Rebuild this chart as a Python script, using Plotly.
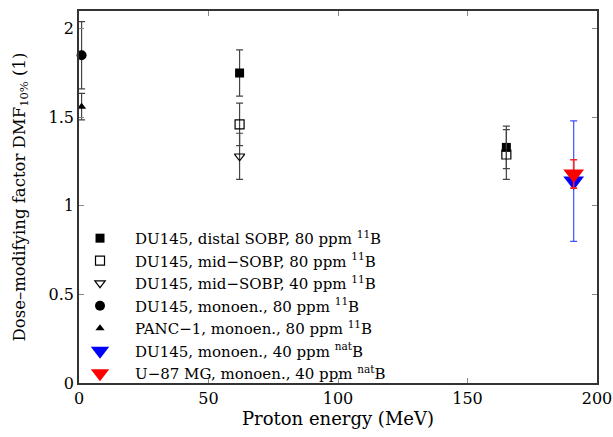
import plotly.graph_objects as go

# ---- data ----
series_names = [
    "DU145, distal SOBP, 80 ppm <sup>11</sup>B",
    "DU145, mid−SOBP, 80 ppm <sup>11</sup>B",
    "DU145, mid−SOBP, 40 ppm <sup>11</sup>B",
    "DU145, monoen., 80 ppm <sup>11</sup>B",
    "PANC−1, monoen., 80 ppm <sup>11</sup>B",
    "DU145, monoen., 40 ppm <sup>nat</sup>B",
    "U−87 MG, monoen., 40 ppm <sup>nat</sup>B",
]
distal_x = [62, 165]
distal_y = [1.75, 1.33]
distal_err = [0.13, 0.12]

mid80_x = [62, 165]
mid80_y = [1.46, 1.29]
mid80_err = [0.12, 0.14]

mid40_x = [62]
mid40_y = [1.28]
mid40_err = [0.13]

mono_du_x = [1]
mono_du_y = [1.85]
mono_du_err = [0.19]

panc_x = [1]
panc_y = [1.56]
panc_err = [0.075]

du_nat_x = [191]
du_nat_y = [1.14]
du_nat_err = [0.34]

u87_x = [191]
u87_y = [1.18]
u87_err = [0.08]

x_ticks = [0, 50, 100, 150, 200]
y_ticks = [0, 0.5, 1, 1.5, 2]

FONT = "DejaVu Serif"
ERRC = "#444444"

fig = go.Figure()

def add(x, y, err, name, symbol, size, color, line_color, line_w, errcolor, errw=1.2):
    fig.add_trace(go.Scatter(
        x=x, y=y, mode="markers", name=name,
        marker=dict(symbol=symbol, size=size, color=color,
                    line=dict(color=line_color, width=line_w)),
        error_y=dict(type="data", array=err, visible=True,
                     color=errcolor, thickness=errw, width=3.5),
        cliponaxis=False,
    ))

add(distal_x, distal_y, distal_err, series_names[0], "square", 9, "black", "black", 0, ERRC)
add(mid80_x, mid80_y, mid80_err, series_names[1], "square-open", 9, "black", "black", 1.2, ERRC)
add(mid40_x, mid40_y, mid40_err, series_names[2], "triangle-down-open", 9, "black", "black", 1.2, ERRC)
add(mono_du_x, mono_du_y, mono_du_err, series_names[3], "circle", 10, "black", "black", 0, ERRC)
add(panc_x, panc_y, panc_err, series_names[4], "triangle-up", 8, "black", "black", 0, ERRC)
add(du_nat_x, du_nat_y, du_nat_err, series_names[5], "triangle-down", 18, "#0000ff", "#0000ff", 0, "#3f50ff")
add(u87_x, u87_y, u87_err, series_names[6], "triangle-down", 18, "#ff0000", "#ff0000", 0, "#ff2020", 1.6)

axis_common = dict(
    showline=True, linecolor="#333333", linewidth=1.5, mirror="ticks",
    ticks="inside", ticklen=5, tickwidth=1, tickcolor="#888888",
    showgrid=False, zeroline=False, automargin=False,
    tickfont=dict(family=FONT, size=16, color="black"),
)

fig.update_layout(
    width=613, height=437,
    margin=dict(l=79, r=16, t=11, b=54),
    paper_bgcolor="white", plot_bgcolor="white",
    font=dict(family=FONT, size=16, color="black"),
    showlegend=True,
    legend=dict(
        x=-0.027, y=0.433, xanchor="left", yanchor="top",
        bgcolor="rgba(0,0,0,0)", font=dict(family=FONT, size=15, color="black"),
        itemwidth=60, tracegroupgap=0,
    ),
    xaxis=dict(range=[0, 200], tickvals=x_ticks, ticktext=[str(v) for v in x_ticks],
               title=dict(text="Proton energy (MeV)", font=dict(family=FONT, size=18), standoff=5),
               **axis_common),
    yaxis=dict(range=[0, 2.1], tickvals=y_ticks, ticktext=["0", "0.5", "1", "1.5", "2"],
               title=dict(text="Dose–modifying factor DMF<sub>10%</sub> (1)", font=dict(family=FONT, size=16.5), standoff=19),
               **axis_common),
)

# remove the browser's default 8px page margin so the figure fills the window exactly
fig.write_html(
    "out.html",
    config={"displayModeBar": False},
    post_script="document.body.style.margin='0';document.body.style.overflow='hidden';",
)
